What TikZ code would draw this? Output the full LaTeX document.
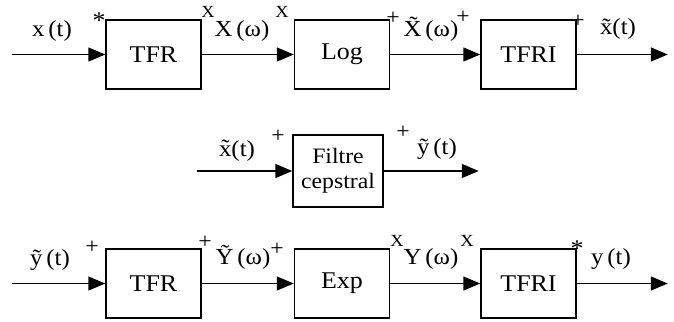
\documentclass[tikz,border=0pt]{standalone}
\usepackage{amsmath}
\usepackage{fontspec}
\setmainfont{Liberation Serif}[FakeStretch=1.08]
\usepackage{tikz}
\usetikzlibrary{arrows.meta,positioning}

\begin{document}
\begin{tikzpicture}[x=1pt,y=-1pt,
blk/.style={draw,line width=1.5pt,minimum width=95pt,minimum height=69pt,inner sep=0pt,align=center,font=\fontsize{24}{26}\selectfont},
arr/.style={-{Triangle[length=17pt,width=14pt]},line width=1.5pt},
sig/.style={inner sep=0pt,text height=17pt,text depth=5pt,font=\fontsize{23}{25}\selectfont},
pm/.style={inner sep=0pt,font=\fontsize{22}{22}\selectfont},
xs/.style={inner sep=0pt,font=\fontsize{17}{18}\selectfont}
]
\useasboundingbox (0,0) rectangle (674,321);

% analyse
\node[blk] (tfrA) at (153.5,54.5) {TFR};
\node[blk,right=92pt of tfrA] (logA) {Log};
\node[blk,right=90pt of logA] (tfriA) {TFRI};
\coordinate[left=93pt of tfrA] (inA);
\coordinate[right=91pt of tfriA] (outA);
\foreach \x/\y in {inA/tfrA,tfrA/logA,logA/tfriA,tfriA/outA}
\draw[arr] (\x) -- (\y);
\node[sig] (xA) at (52,31) {x\,(t)};
\node[sig] (XwA) at (242,31) {X\,(ω)};
\node[sig] (XtA) at (431,31) {X̃\,(ω)};
\node[sig] (xtA) at (618,29) {x̃(t)};
\node[pm,font=\fontsize{24}{24}\selectfont] (s1) at (99,21) {*};
\node[xs] (s2) at (208,12) {X};
\node[xs] (s3) at (282,12) {X};
\node[pm] (s4) at (393,18) {+};
\node[pm] (s5) at (463,17) {+};
\node[pm] (s6) at (578,21) {+};

% filtrage
\node[blk,minimum width=90pt,minimum height=72pt,font=\fontsize{22}{25}\selectfont] (filt) at (338,171) {Filtre\\cepstral};
\coordinate[left=95pt of filt] (inB);
\coordinate[right=95pt of filt] (outB);
\draw[arr] (inB) -- (filt);
\draw[arr] (filt) -- (outB);
\node[sig] (xtB) at (237,150) {x̃(t)};
\node[sig] (ytB) at (437,148) {ỹ\,(t)};
\node[pm] (s7) at (278,136) {+};
\node[pm] (s8) at (403,132) {+};

% synthese
\node[blk] (tfrC) at (153.5,283.5) {TFR};
\node[blk,right=92pt of tfrC] (expC) {Exp};
\node[blk,right=90pt of expC] (tfriC) {TFRI};
\coordinate[left=93pt of tfrC] (inC);
\coordinate[right=91pt of tfriC] (outC);
\foreach \x/\y in {inC/tfrC,tfrC/expC,expC/tfriC,tfriC/outC}
\draw[arr] (\x) -- (\y);
\node[sig] (ytC) at (50,259) {ỹ\,(t)};
\node[sig] (YtC) at (243,258) {Ỹ\,(ω)};
\node[sig] (YwC) at (431,258) {Y\,(ω)};
\node[sig] (yC) at (611,258) {y\,(t)};
\node[pm] (s9) at (92,247) {+};
\node[pm] (s10) at (205,242) {+};
\node[pm] (s11) at (277,249) {+};
\node[xs] (s12) at (397,241) {X};
\node[xs] (s13) at (467,241) {X};
\node[pm,font=\fontsize{24}{24}\selectfont] (s14) at (577,249) {*};
\end{tikzpicture}
\end{document}
